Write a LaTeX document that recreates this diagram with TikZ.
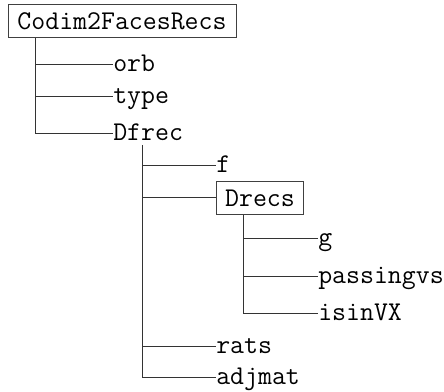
\documentclass[tikz,border=0pt]{standalone}
\begin{document}
\begin{tikzpicture}[x=0.75pt,y=-0.75pt,
  every node/.style={font=\fontsize{20.3}{24}\selectfont\ttfamily},
  leaf/.style={anchor=west,inner sep=0pt,text height=13pt,text depth=3pt},
  boxed/.style={draw=black!75,line width=0.75pt,inner sep=0pt,minimum height=24.75pt},
  conn/.style={draw=black!80,line width=0.75pt}]
\useasboundingbox (0,0) rectangle (444,392);
\node[boxed,minimum width=171pt] (root) at (122,21.5) {Codim2FacesRecs};
\node[leaf] (orb) at (113,65) {orb};
\node[leaf] (type) at (113,97) {type};
\node[leaf] (Dfrec) at (113,134) {Dfrec};
\node[leaf] (f) at (216,166) {f};
\node[boxed,anchor=west,minimum width=65.25pt] (Drecs) at (216,198) {Drecs};
\node[leaf] (g) at (318,239) {g};
\node[leaf] (passingvs) at (318,277) {passingvs};
\node[leaf] (isinVX) at (318,314) {isinVX};
\node[leaf] (rats) at (216,347) {rats};
\node[leaf] (adjmat) at (216,378) {adjmat};
\coordinate (rootv) at ([xshift=21pt]root.south west);
\coordinate (dfrecv) at ([xshift=21.75pt]Dfrec.south west);
\coordinate (drecsv) at ([xshift=20.25pt]Drecs.south west);
\draw[conn] (rootv) |- (Dfrec.west);
\draw[conn] (rootv |- orb.west) -- (orb.west);
\draw[conn] (rootv |- type.west) -- (type.west);
\draw[conn] (dfrecv) |- (adjmat.west);
\draw[conn] (dfrecv |- f.west) -- (f.west);
\draw[conn] (dfrecv |- Drecs.west) -- (Drecs.west);
\draw[conn] (dfrecv |- rats.west) -- (rats.west);
\draw[conn] (drecsv) |- (isinVX.west);
\draw[conn] (drecsv |- g.west) -- (g.west);
\draw[conn] (drecsv |- passingvs.west) -- (passingvs.west);
\end{tikzpicture}
\end{document}
